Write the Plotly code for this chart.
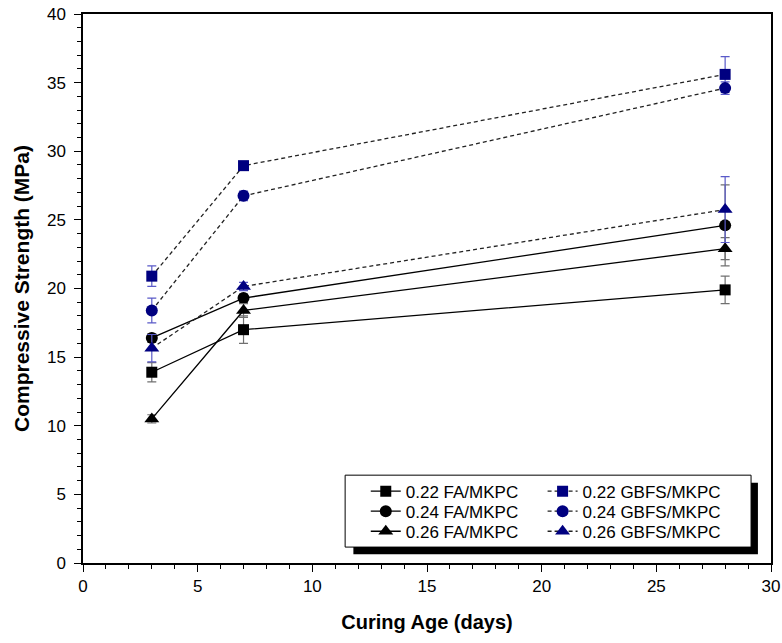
import plotly.graph_objects as go

# Curing ages (days)
days = [3, 7, 28]

# Compressive strength (MPa) and standard deviations
fa_022 = [13.9, 17.0, 19.9]
fa_022_err = [0.7, 1.0, 1.0]
fa_024 = [16.4, 19.3, 24.6]
fa_024_err = [0.3, 0.3, 2.95]
fa_026 = [10.5, 18.4, 22.9]
fa_026_err = [0.3, 0.5, 0.8]

gbfs_022 = [20.9, 28.95, 35.6]
gbfs_022_err = [0.75, 0.3, 1.3]
gbfs_024 = [18.4, 26.75, 34.6]
gbfs_024_err = [0.9, 0.35, 0.45]
gbfs_026 = [15.65, 20.15, 25.75]
gbfs_026_err = [1.0, 0.3, 2.4]

names_fa = ["0.22 FA/MKPC", "0.24 FA/MKPC", "0.26 FA/MKPC"]
names_gbfs = ["0.22 GBFS/MKPC", "0.24 GBFS/MKPC", "0.26 GBFS/MKPC"]
symbols = ["square", "circle", "triangle-up"]
sizes = [11, 12, 13]

NAVY = "#000080"
FONT = "Liberation Sans, Arial, sans-serif"

# Legend layout: one single-entry legend per trace, two columns of three rows
legend_cols = [0.411, 0.668]
legend_rows = [0.130, 0.0935, 0.057]

fig = go.Figure()

fa_series = [(fa_022, fa_022_err), (fa_024, fa_024_err), (fa_026, fa_026_err)]
gbfs_series = [(gbfs_022, gbfs_022_err), (gbfs_024, gbfs_024_err), (gbfs_026, gbfs_026_err)]

legend_layout = {}
legend_style = dict(
    bgcolor="rgba(0,0,0,0)", borderwidth=0,
    font=dict(family=FONT, size=17, color="black"),
    xanchor="left", yanchor="middle", itemwidth=30,
)

idx = 0
for col, (series, names, color, dash, err_color) in enumerate([
    (fa_series, names_fa, "black", "solid", "#707070"),
    (gbfs_series, names_gbfs, NAVY, "4px,3px", "#5a5ac8"),
]):
    for row, ((vals, err), name, sym, sz) in enumerate(zip(series, names, symbols, sizes)):
        idx += 1
        key = "legend" if idx == 1 else f"legend{idx}"
        fig.add_trace(go.Scatter(
            x=days, y=vals, name=name, mode="lines+markers",
            line=dict(color="black" if col == 0 else "#222222", width=1.3, dash=dash),
            marker=dict(symbol=sym, size=sz, color=color),
            error_y=dict(type="data", array=err, color=err_color, thickness=1.2, width=4.5),
            legend=key,
        ))
        legend_layout[key] = dict(x=legend_cols[col], y=legend_rows[row], **legend_style)

# Legend frame with drop shadow
fig.add_shape(type="rect", xref="paper", yref="paper",
              x0=0.393, x1=0.981, y0=0.016, y1=0.146,
              fillcolor="black", line=dict(width=0), layer="below")
fig.add_shape(type="rect", xref="paper", yref="paper",
              x0=0.381, x1=0.971, y0=0.029, y1=0.160,
              fillcolor="white", line=dict(color="black", width=1), layer="below")

axis_common = dict(
    showline=True, linecolor="black", linewidth=1.5, mirror=True,
    ticks="outside", ticklen=7, tickwidth=1.2, tickcolor="black",
    showgrid=False, zeroline=False, automargin=False,
    tickfont=dict(family=FONT, size=17, color="black"),
)

fig.update_xaxes(
    range=[0, 30], dtick=5, tick0=0,
    minor=dict(dtick=1, ticks="outside", ticklen=4, tickcolor="black", tickwidth=1),
    title=dict(text="<b>Curing Age (days)</b>", font=dict(family=FONT, size=20, color="black"),
               standoff=20),
    **axis_common,
)
fig.update_yaxes(
    range=[0, 40], dtick=5, tick0=0,
    minor=dict(dtick=1, ticks="outside", ticklen=4, tickcolor="black", tickwidth=1),
    ticklabelstandoff=5,
    title=dict(text="<b>Compressive Strength (MPa)</b>", font=dict(family=FONT, size=21, color="black"),
               standoff=12),
    **axis_common,
)

fig.update_layout(
    width=782, height=643,
    margin=dict(l=83, r=11, t=14, b=80),
    paper_bgcolor="white", plot_bgcolor="white",
    showlegend=True,
    **legend_layout,
)

fig.write_html("out.html")
